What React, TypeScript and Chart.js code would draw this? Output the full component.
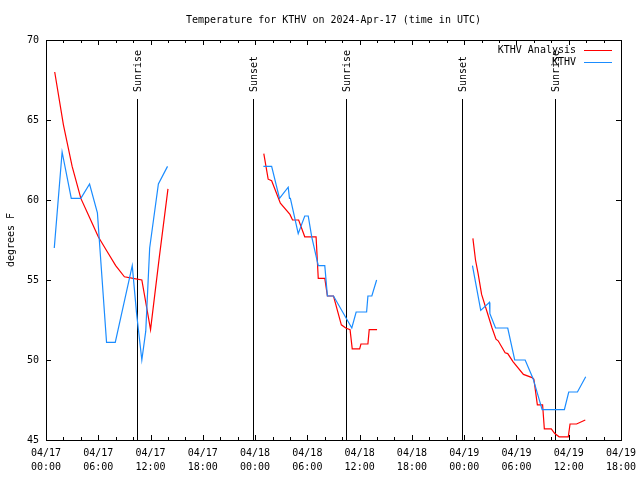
import { useEffect, useRef } from "react";
import { Chart, registerables } from "chart.js";

Chart.register(...registerables);

const TITLE = "Temperature for KTHV on 2024-Apr-17 (time in UTC)";
const Y_LABEL = "degrees F";
const SERIES_NAMES = ["KTHV Analysis", "KTHV"];
const SERIES_COLORS = ["#ff0000", "#1a8cff"];
const FONT = '10px "DejaVu Sans Mono", "Liberation Mono", monospace';

// hours since 2024-04-17 00:00 UTC
const analysisHours1 = [1, 2, 3, 4, 5, 6, 7, 8, 9, 10, 11, 12, 13, 14];
const analysisTemps1 = [68.0, 64.7, 62.1, 60.1, 58.9, 57.7, 56.8, 55.9, 55.2, 55.1, 55.0, 51.9, 56.4, 60.7];
const analysisHours2 = [25.0, 25.5, 25.9, 26.9, 28.0, 28.3, 29.0, 29.7, 31.0, 31.25, 32.0, 32.3, 33.0, 33.9, 34.4, 34.9, 35.15, 36.0, 36.15, 36.95, 37.1, 38.0];
const analysisTemps2 = [62.9, 61.3, 61.2, 59.8, 59.1, 58.75, 58.75, 57.7, 57.7, 55.1, 55.1, 54.0, 54.0, 52.2, 52.0, 51.9, 50.7, 50.7, 51.0, 51.0, 51.9, 51.9];
const analysisHours3 = [49.0, 49.3, 49.6, 50.0, 50.8, 51.2, 51.65, 51.9, 52.7, 53.0, 53.6, 54.8, 55.8, 56.0, 56.4, 57.0, 57.2, 58.0, 58.4, 58.9, 59.95, 60.15, 60.9, 61.9];
const analysisTemps3 = [57.6, 56.25, 55.4, 54.1, 52.7, 52.0, 51.3, 51.2, 50.45, 50.4, 49.9, 49.1, 48.9, 48.8, 47.2, 47.2, 45.7, 45.7, 45.4, 45.2, 45.2, 46.0, 46.0, 46.25];

const obsHours1 = [0.95, 1.85, 2.9, 4.0, 5.0, 5.9, 6.95, 7.95, 9.9, 10.4, 11.0, 11.45, 11.9, 12.9, 13.95];
const obsTemps1 = [57.0, 63.0, 60.1, 60.1, 61.0, 59.2, 51.1, 51.1, 55.9, 52.9, 50.0, 51.8, 57.0, 61.0, 62.1];
const obsHours2 = [24.95, 25.9, 26.8, 27.8, 27.95, 28.05, 28.95, 29.7, 30.1, 30.5, 31.25, 32.0, 32.3, 33.0, 35.1, 35.6, 36.8, 36.95, 37.4, 37.95];
const obsTemps2 = [62.1, 62.1, 60.1, 60.8, 60.1, 60.1, 57.9, 59.0, 59.0, 57.7, 55.9, 55.9, 54.0, 54.0, 52.0, 53.0, 53.0, 54.0, 54.0, 55.0];
const obsHours3 = [48.95, 49.9, 50.9, 50.95, 51.6, 53.0, 53.8, 55.0, 55.9, 56.95, 59.5, 60.0, 61.0, 61.95];
const obsTemps3 = [55.9, 53.1, 53.6, 52.9, 52.0, 52.0, 50.0, 50.0, 48.85, 46.9, 46.9, 48.0, 48.0, 48.95];

const sunHours = [10.47, 23.8, 34.42, 47.8, 58.47];
const sunLabels = ["Sunrise", "Sunset", "Sunrise", "Sunset", "Sunrise"];

const xTickLabels = [
  ["04/17", "00:00"], ["04/17", "06:00"], ["04/17", "12:00"], ["04/17", "18:00"],
  ["04/18", "00:00"], ["04/18", "06:00"], ["04/18", "12:00"], ["04/18", "18:00"],
  ["04/19", "00:00"], ["04/19", "06:00"], ["04/19", "12:00"], ["04/19", "18:00"],
];
const X_MIN = 0, X_MAX = 66, X_STEP = 6, X_MINOR = 2;
const Y_MIN = 45, Y_MAX = 70, Y_STEP = 5;

const seg = (hs: number[], ts: number[]) => hs.map((h, i) => ({ x: h, y: ts[i] as number | null }));
const gap = (h: number) => ({ x: h, y: null as number | null });

const analysisData = [
  ...seg(analysisHours1, analysisTemps1), gap(20),
  ...seg(analysisHours2, analysisTemps2), gap(44),
  ...seg(analysisHours3, analysisTemps3),
];
const obsData = [
  ...seg(obsHours1, obsTemps1), gap(20),
  ...seg(obsHours2, obsTemps2), gap(44),
  ...seg(obsHours3, obsTemps3),
];

const crisp = (v: number) => Math.round(v) + 0.5;

const decorPlugin = {
  id: "decor",
  beforeDraw(chart: any) {
    const { ctx, width, height } = chart;
    ctx.save();
    ctx.fillStyle = "#ffffff";
    ctx.fillRect(0, 0, width, height);
    ctx.restore();
  },
  beforeDatasetsDraw(chart: any) {
    const { ctx, chartArea: a, scales } = chart;
    const x = scales.x;
    ctx.save();
    ctx.strokeStyle = "#000";
    ctx.lineWidth = 1;
    ctx.fillStyle = "#000";
    ctx.font = FONT;
    sunHours.forEach((h, i) => {
      const px = crisp(x.getPixelForValue(h));
      ctx.beginPath();
      ctx.moveTo(px, a.bottom);
      ctx.lineTo(px, a.top + 59);
      ctx.stroke();
      ctx.save();
      ctx.translate(px + 1, a.top + 52);
      ctx.rotate(-Math.PI / 2);
      ctx.textAlign = "left";
      ctx.textBaseline = "middle";
      ctx.fillText(sunLabels[i], 0, 0);
      ctx.restore();
    });
    ctx.restore();
  },
  afterDatasetsDraw(chart: any) {
    const { ctx, chartArea: a, scales } = chart;
    const x = scales.x, y = scales.y;
    ctx.save();
    ctx.strokeStyle = "#000";
    ctx.lineWidth = 1;
    ctx.strokeRect(a.left + 0.5, a.top + 0.5, a.right - a.left, a.bottom - a.top);
    ctx.beginPath();
    for (let v = X_MIN + X_MINOR; v < X_MAX; v += X_MINOR) {
      const px = crisp(x.getPixelForValue(v));
      const len = v % X_STEP === 0 ? 5 : 3;
      ctx.moveTo(px, a.bottom);
      ctx.lineTo(px, a.bottom - len);
      ctx.moveTo(px, a.top);
      ctx.lineTo(px, a.top + len);
    }
    for (let v = Y_MIN + Y_STEP; v < Y_MAX; v += Y_STEP) {
      const py = crisp(y.getPixelForValue(v));
      ctx.moveTo(a.left, py);
      ctx.lineTo(a.left + 5, py);
      ctx.moveTo(a.right, py);
      ctx.lineTo(a.right - 5, py);
    }
    ctx.stroke();

    ctx.fillStyle = "#000";
    ctx.font = FONT;
    // title
    ctx.textAlign = "center";
    ctx.textBaseline = "middle";
    ctx.fillText(TITLE, (a.left + a.right) / 2, 20);
    // y label
    ctx.save();
    ctx.translate(11, (a.top + a.bottom) / 2);
    ctx.rotate(-Math.PI / 2);
    ctx.fillText(Y_LABEL, 0, 0);
    ctx.restore();
    // legend
    ctx.textAlign = "right";
    SERIES_NAMES.forEach((name, i) => {
      const ly = a.top + 10 + i * 12.5;
      ctx.fillStyle = "#000";
      ctx.fillText(name, a.right - 45, ly);
      ctx.strokeStyle = SERIES_COLORS[i];
      ctx.beginPath();
      ctx.moveTo(a.right - 37, crisp(ly - 0.5));
      ctx.lineTo(a.right - 9, crisp(ly - 0.5));
      ctx.stroke();
    });
    ctx.restore();
  },
};

export default function App() {
  const ref = useRef<HTMLCanvasElement | null>(null);
  useEffect(() => {
    document.body.style.margin = "0";
    if (!ref.current) return;
    const chart = new Chart(ref.current, {
      type: "line",
      data: {
        datasets: [
          {
            label: SERIES_NAMES[0],
            data: analysisData,
            borderColor: SERIES_COLORS[0],
            backgroundColor: SERIES_COLORS[0],
            borderWidth: 1.2,
            pointRadius: 0,
            tension: 0,
            spanGaps: false,
            order: 1,
          },
          {
            label: SERIES_NAMES[1],
            data: obsData,
            borderColor: SERIES_COLORS[1],
            backgroundColor: SERIES_COLORS[1],
            borderWidth: 1.2,
            pointRadius: 0,
            tension: 0,
            spanGaps: false,
            order: 0,
          },
        ],
      },
      options: {
        animation: false,
        responsive: false,
        devicePixelRatio: 1,
        layout: { padding: { left: 0, top: 40, right: 19, bottom: 0 } },
        plugins: { legend: { display: false }, title: { display: false }, tooltip: { enabled: false } },
        scales: {
          x: {
            type: "linear",
            min: X_MIN,
            max: X_MAX,
            grid: { display: false, drawTicks: false },
            border: { display: false },
            afterFit: (s: any) => {
              s.height = 40;
              s.paddingLeft = 0;
              s.paddingRight = 0;
            },
            ticks: {
              stepSize: X_STEP,
              autoSkip: false,
              maxRotation: 0,
              minRotation: 0,
              padding: 7,
              color: "#000",
              font: { family: '"DejaVu Sans Mono", monospace', size: 10, lineHeight: 1.33 },
              callback: (v: any) => xTickLabels[Math.round((Number(v) - X_MIN) / X_STEP)] ?? "",
            },
          },
          y: {
            type: "linear",
            min: Y_MIN,
            max: Y_MAX,
            grid: { display: false, drawTicks: false },
            border: { display: false },
            afterFit: (s: any) => { s.width = 46; },
            ticks: {
              stepSize: Y_STEP,
              padding: 7,
              color: "#000",
              font: { family: '"DejaVu Sans Mono", monospace', size: 10 },
            },
          },
        },
      },
      plugins: [decorPlugin],
    } as any);
    return () => chart.destroy();
  }, []);
  return (
    <div style={{ position: "absolute", left: 0, top: 0, width: 640, height: 480 }}>
      <canvas ref={ref} width={640} height={480} style={{ display: "block", width: 640, height: 480 }} />
    </div>
  );
}
